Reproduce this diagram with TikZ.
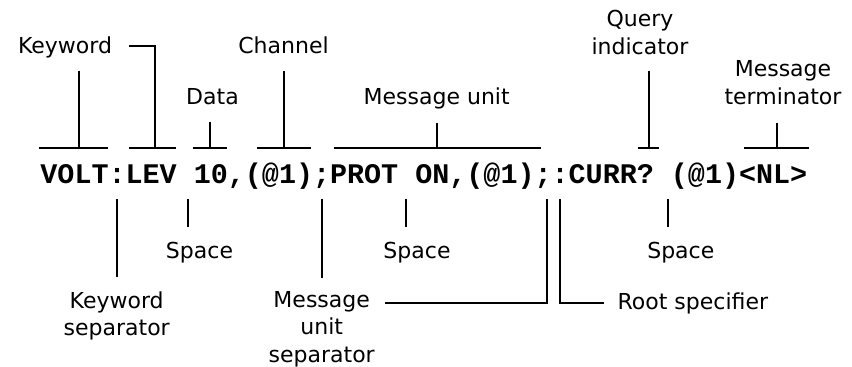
\documentclass[tikz,border=0pt]{standalone}
\usepackage{fontspec}
\setmainfont{DejaVu Sans}
\newfontfamily\codefont{Liberation Mono}
\begin{document}
\begin{tikzpicture}[x=1pt,y=-1pt,line width=1.9pt,
  lbl/.style={font=\fontsize{22}{27.4}\selectfont,inner sep=0pt,align=center,anchor=base},
  code/.style={font=\codefont\bfseries\fontsize{28.4}{30}\selectfont,inner sep=0pt,anchor=base west}]
\useasboundingbox (0,0) rectangle (852,367);
% command line
\node[code] (cmd) at (39.5,183) {VOLT:LEV 10,(@1);PROT ON,(@1);:CURR? (@1)<NL>};
% top labels (multi-line nodes are placed by the baseline of their last line)
\node[lbl] (kw) at (65,53.3) {Keyword};
\node[lbl] (data) at (212.5,104) {Data};
\node[lbl] (chan) at (283.5,53.3) {Channel};
\node[lbl] (mu) at (436.7,104) {Message unit};
\node[lbl] (qi) at (640,54) {Query\\indicator};
\node[lbl] (mt) at (783,104) {Message\\terminator};
% bottom labels
\node[lbl] (ks) at (116.7,335.7) {Keyword\\separator};
\node[lbl] (sp1) at (199.5,258.3) {Space};
\node[lbl] (mus) at (321.7,362.3) {Message\\unit\\separator};
\node[lbl] (sp2) at (417,258.3) {Space};
\node[lbl,anchor=base west] (rs) at (616.7,309.3) {Root specifier};
\node[lbl] (sp3) at (680.8,258.3) {Space};
% top brackets
\draw (39,148) -- (108,148);   \draw (78.7,70.7) -- (78.7,148);
\draw (129,148) -- (175.7,148); \draw (129,45.7) -| (154.7,148);
\draw (192.7,148) -- (226.7,148); \draw (210,122) -- (210,148);
\draw (257.3,148) -- (310.7,148); \draw (283.7,70.7) -- (283.7,148);
\draw (334.3,148) -- (540.7,148); \draw (437.3,123) -- (437.3,148);
\draw (638.3,148) -- (659.3,148); \draw (649,70.7) -- (649,148);
\draw (744.3,148) -- (809.3,148); \draw (777.3,123) -- (777.3,148);
% bottom pointers
\draw (116.7,199.3) -- (116.7,277.3);
\draw (187.7,199.3) -- (187.7,226.7);
\draw (321.7,199.3) -- (321.7,278.3);
\draw (405.7,199.3) -- (405.7,226.7);
\draw (385,303.3) -| (546.7,199.3);
\draw (560,199.3) |- (604.3,303.3);
\draw (668.3,199.3) -- (668.3,226.7);
\end{tikzpicture}
\end{document}
